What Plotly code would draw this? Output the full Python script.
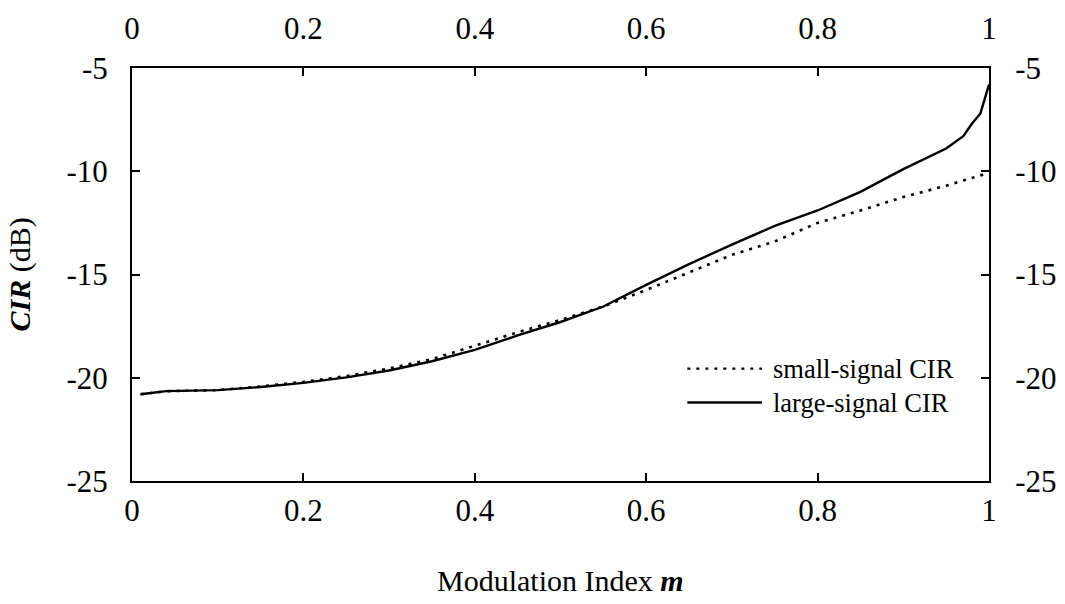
import plotly.graph_objects as go

# Modulation index samples and CIR curves (dB)
m_vals = [0.01, 0.04, 0.1, 0.15, 0.2, 0.25, 0.3, 0.35, 0.4, 0.45, 0.5, 0.55,
          0.6, 0.65, 0.7, 0.75, 0.8, 0.85, 0.9, 0.95, 0.97, 0.98, 0.99, 1.0]
small_signal = [-20.8, -20.65, -20.6, -20.42, -20.2, -19.92, -19.55, -19.1, -18.45,
                -17.8, -17.2, -16.55, -15.75, -14.9, -14.05, -13.4, -12.5, -11.9,
                -11.25, -10.7, -10.45, -10.3, -10.2, -10.1]
large_signal = [-20.8, -20.65, -20.6, -20.45, -20.25, -19.98, -19.65, -19.2, -18.65,
                -17.95, -17.3, -16.55, -15.5, -14.5, -13.55, -12.65, -11.9, -11.0,
                -9.9, -8.9, -8.3, -7.7, -7.2, -5.8]

x_ticks = [0, 0.2, 0.4, 0.6, 0.8, 1]
x_tick_text = ["0", "0.2", "0.4", "0.6", "0.8", "1"]
y_ticks = [-25, -20, -15, -10, -5]
y_tick_text = ["-25", "-20", "-15", "-10", "-5"]

FONT = "Liberation Serif, Times New Roman, serif"
TICK_FONT = dict(family=FONT, size=31, color="black")

fig = go.Figure()
fig.add_trace(go.Scatter(x=m_vals, y=small_signal, mode="lines",
                         line=dict(color="black", width=2.6, dash="3px,6px"),
                         showlegend=False))
fig.add_trace(go.Scatter(x=m_vals, y=large_signal, mode="lines",
                         line=dict(color="black", width=2.4),
                         showlegend=False))

axis_common = dict(showgrid=False, zeroline=False, showline=True,
                   linecolor="black", linewidth=2, ticks="inside", ticklen=8,
                   tickwidth=1.5, tickcolor="black", tickfont=TICK_FONT,
                   automargin=False)

fig.update_layout(
    width=1065, height=604,
    margin=dict(l=132, r=76, t=68, b=123),
    paper_bgcolor="white", plot_bgcolor="white",
    font=dict(family=FONT, color="black"),
    xaxis=dict(**axis_common, range=[0, 1], tickvals=x_ticks,
               ticktext=x_tick_text, ticklabelstandoff=1),
    xaxis2=dict(**axis_common, range=[0, 1], tickvals=x_ticks,
                ticktext=x_tick_text, overlaying="x", side="top",
                anchor="y", ticklabelstandoff=15),
    yaxis=dict(**axis_common, range=[-25, -5], tickvals=y_ticks,
               ticktext=y_tick_text, ticklabelstandoff=16),
    yaxis2=dict(**axis_common, range=[-25, -5], tickvals=y_ticks,
                ticktext=y_tick_text, overlaying="y", side="right",
                anchor="x", ticklabelstandoff=18),
)

# invisible trace so the mirrored top/right axes are rendered
fig.add_trace(go.Scatter(x=[0, 1], y=[-25, -5], xaxis="x2", yaxis="y2",
                         mode="markers", marker=dict(opacity=0),
                         showlegend=False, hoverinfo="skip"))

# axis titles
fig.add_annotation(text="Modulation Index <b><i>m</i></b>", xref="paper",
                   yref="paper", x=0.5, y=-0.286, showarrow=False,
                   font=dict(family=FONT, size=30, color="black"))
fig.add_annotation(text="<b><i>CIR</i></b> (dB)", xref="paper", yref="paper",
                   x=-0.154, y=0.5, textangle=-90, showarrow=False,
                   font=dict(family=FONT, size=30, color="black"))

# legend drawn inside the plot area
legend_items = [("small-signal CIR", "3px,6px", 0.272),
                ("large-signal CIR", "solid", 0.19)]
for label, dash, ypos in legend_items:
    fig.add_shape(type="line", xref="paper", yref="paper",
                  x0=0.648, x1=0.735, y0=ypos, y1=ypos,
                  line=dict(color="black", width=2.4, dash=dash))
    fig.add_annotation(text=label, xref="paper", yref="paper", x=0.746,
                       y=ypos, xanchor="left", yanchor="middle",
                       showarrow=False,
                       font=dict(family=FONT, size=26.5, color="black"))

fig.write_html("out.html")
